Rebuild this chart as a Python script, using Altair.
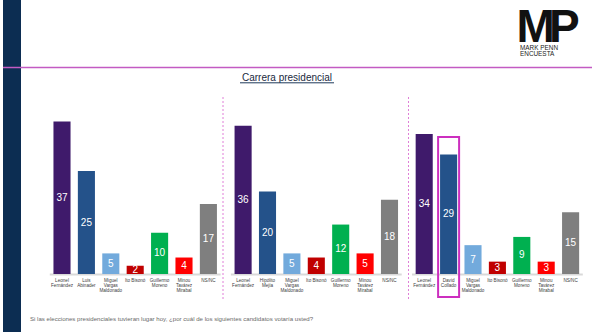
import altair as alt
import pandas as pd

# ---- data -------------------------------------------------------------
groups = ["Escenario 1", "Escenario 2", "Escenario 3"]
candidates_1 = ["Leonel\nFernández", "Luis\nAbinader", "Miguel\nVargas\nMaldonado",
                "Ito Bisonó", "Guillermo\nMoreno", "Minou\nTavárez\nMirabal", "NS/NC"]
candidates_2 = ["Leonel\nFernández", "Hipólito\nMejía", "Miguel\nVargas\nMaldonado",
                "Ito Bisonó", "Guillermo\nMoreno", "Minou\nTavárez\nMirabal", "NS/NC"]
candidates_3 = ["Leonel\nFernández", "David\nCollado", "Miguel\nVargas\nMaldonado",
                "Ito Bisonó", "Guillermo\nMoreno", "Minou\nTavárez\nMirabal", "NS/NC"]
values_1 = [37, 25, 5, 2, 10, 4, 17]
values_2 = [36, 20, 5, 4, 12, 5, 18]
values_3 = [34, 29, 7, 3, 9, 3, 15]
slot_colors = ["#3f1a6b", "#24528a", "#72aadc", "#c00000", "#00b050", "#ff0000", "#7f7f7f"]
highlighted = ("Escenario 3", "David\nCollado")
title_text = "Carrera presidencial"
question = ("Si las elecciones presidenciales tuvieran lugar hoy, "
            "¿por cuál de los siguientes candidatos votaría usted?")

rows = []
for g, cands, vals in zip(groups, [candidates_1, candidates_2, candidates_3],
                          [values_1, values_2, values_3]):
    for i, (c, v) in enumerate(zip(cands, vals)):
        rows.append({"group": g, "slot": i, "candidate": c, "value": v,
                     "hl": (g, c) == highlighted})
df = pd.DataFrame(rows)
df_groups = pd.DataFrame({"group": groups})

FONT = "Liberation Sans"

# ---- scales -----------------------------------------------------------
x_scale = alt.Scale(domain=groups, range=[49.8, 582.8], paddingInner=0.0569, paddingOuter=0)
xo_scale = alt.Scale(domain=list(range(7)), paddingInner=0.3, paddingOuter=0.15)
y_scale = alt.Scale(domain=[0, 37], range=[274, 274 - 37 * 4.12], nice=False, zero=True)

X = alt.X("group:N", scale=x_scale, axis=None)
XO = alt.XOffset("slot:O", scale=xo_scale)

base = alt.Chart(df)

bars = base.mark_bar().encode(
    x=X, xOffset=XO,
    y=alt.Y("value:Q", scale=y_scale, axis=None),
    color=alt.Color("slot:O", scale=alt.Scale(domain=list(range(7)), range=slot_colors), legend=None),
)

value_labels = base.transform_calculate(mid="datum.value / 2").mark_text(
    color="white", fontSize=10, font=FONT, baseline="middle"
).encode(
    x=X, xOffset=XO,
    y=alt.Y("mid:Q", scale=y_scale, axis=None),
    text="value:Q",
)

cand_labels = base.mark_text(
    color="#404040", fontSize=4.6, font=FONT, baseline="top", lineBreak="\n", lineHeight=5.2
).encode(
    x=X, xOffset=XO, y=alt.value(277.5), text="candidate:N",
)

highlight = base.transform_filter("datum.hl").mark_bar(
    fill=None, fillOpacity=0, stroke="#cc2fbf", strokeWidth=2, size=21
).encode(
    x=X, xOffset=XO, y=alt.value(137), y2=alt.value(297),
)

baselines = alt.Chart(df_groups).mark_rect(color="#d9d9d9").encode(
    x=X, y=alt.value(273.5), y2=alt.value(275.5),
)

one = pd.DataFrame({"k": [0]})

divider_1 = alt.Chart(one).mark_rule(color="#e07fd8", strokeWidth=1, strokeDash=[2, 2]).encode(
    x=alt.value(223), y=alt.value(97), y2=alt.value(301),
)
divider_2 = alt.Chart(one).mark_rule(color="#e07fd8", strokeWidth=1, strokeDash=[2, 2]).encode(
    x=alt.value(408.5), y=alt.value(97), y2=alt.value(301),
)

navy = alt.Chart(one).mark_rect(color="#0c2d52").encode(
    x=alt.value(3), x2=alt.value(21), y=alt.value(0), y2=alt.value(332),
)
top_line = alt.Chart(one).mark_rule(color="#c35bc3", strokeWidth=1.5).encode(
    x=alt.value(3), x2=alt.value(592), y=alt.value(67.5),
)
title = alt.Chart(one).mark_text(
    fontSize=10, font=FONT, color="#1a2a40", align="center", baseline="alphabetic"
).encode(x=alt.value(287), y=alt.value(81), text=alt.value(title_text))
underline = alt.Chart(one).mark_rule(color="#1f3a5a", strokeWidth=1).encode(
    x=alt.value(240), x2=alt.value(334), y=alt.value(82.8),
)
logo_m = alt.Chart(one).mark_text(
    fontSize=46, font=FONT, fontWeight="bold",
    color="#111111", align="left", baseline="alphabetic"
).encode(x=alt.value(516.5), y=alt.value(42), text=alt.value("M"))
logo_p = alt.Chart(one).mark_text(
    fontSize=46, font=FONT, fontWeight="bold",
    color="#111111", align="left", baseline="alphabetic"
).encode(x=alt.value(549), y=alt.value(42), text=alt.value("P"))
logo_l1 = alt.Chart(one).mark_text(
    fontSize=6.4, font=FONT, color="#222222", align="left", baseline="alphabetic"
).encode(x=alt.value(520), y=alt.value(49.5), text=alt.value("MARK PENN"))
logo_l2 = alt.Chart(one).mark_text(
    fontSize=6.4, font=FONT, color="#222222", align="left", baseline="alphabetic"
).encode(x=alt.value(520), y=alt.value(56), text=alt.value("ENCUESTA"))
question_txt = alt.Chart(one).mark_text(
    fontSize=6.1, font=FONT, color="#6a6a6a", align="left", baseline="middle"
).encode(x=alt.value(30), y=alt.value(318.5), text=alt.value(question))

chart = alt.layer(
    navy, top_line, title, underline, logo_m, logo_p, logo_l1, logo_l2,
    baselines, divider_1, divider_2, bars, value_labels, cand_labels, highlight, question_txt,
).properties(
    width=602, height=334, padding=0, autosize="none", background="white"
).configure_view(stroke=None)

chart.save("out.html", embed_options={"renderer": "svg", "actions": False})
